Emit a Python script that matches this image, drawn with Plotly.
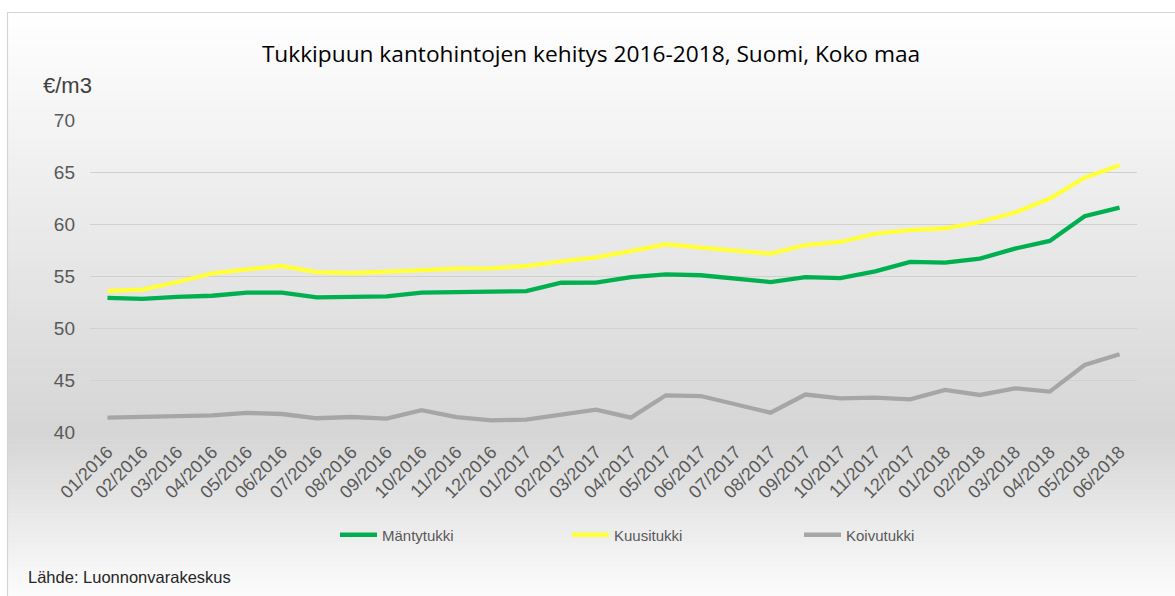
import plotly.graph_objects as go

months = ["01/2016", "02/2016", "03/2016", "04/2016", "05/2016", "06/2016",
          "07/2016", "08/2016", "09/2016", "10/2016", "11/2016", "12/2016",
          "01/2017", "02/2017", "03/2017", "04/2017", "05/2017", "06/2017",
          "07/2017", "08/2017", "09/2017", "10/2017", "11/2017", "12/2017",
          "01/2018", "02/2018", "03/2018", "04/2018", "05/2018", "06/2018"]

mantytukki = [52.9, 52.8, 53.0, 53.1, 53.4, 53.4, 52.95, 53.05, 53.05, 53.4, 53.45, 53.55,
              53.55, 54.35, 54.37, 54.9, 55.15, 55.07, 54.7, 54.42, 54.9, 54.8, 55.45, 56.35,
              56.28, 56.67, 57.63, 58.37, 60.75, 61.57]
kuusitukki = [53.56, 53.69, 54.42, 55.26, 55.64, 55.96, 55.38, 55.29, 55.42, 55.61, 55.71, 55.74,
              55.96, 56.41, 56.8, 57.4, 58.05, 57.73, 57.4, 57.15, 57.98, 58.27, 59.08, 59.42,
              59.59, 60.19, 61.1, 62.44, 64.46, 65.64]
koivutukki = [41.38, 41.44, 41.54, 41.6, 41.83, 41.73, 41.32, 41.44, 41.29, 42.09, 41.44, 41.12,
              41.19, 41.7, 42.15, 41.38, 43.53, 43.46, 42.66, 41.86, 43.6, 43.24, 43.3, 43.14,
              44.04, 43.56, 44.2, 43.88, 46.44, 47.47]

series_names = ["Mäntytukki", "Kuusitukki", "Koivutukki"]
series_colors = ["#00B050", "#FFFF3B", "#A6A6A6"]
y_ticks = [40, 45, 50, 55, 60, 65, 70]

W, H = 1175, 596
L, R, T, B = 90, 1137, 120, 432  # plot area in pixels


def px_x(x):
    return (x - L) / (R - L)


def px_y(y):
    return (B - y) / (B - T)


fig = go.Figure()
for name, vals, col in zip(series_names, [mantytukki, kuusitukki, koivutukki], series_colors):
    fig.add_trace(go.Scatter(x=months, y=vals, mode="lines", name=name,
                             line=dict(color=col, width=4.3)))

# vertical gradient background built from thin strips
shapes = []
top, bottom = 12, 596
n = 120


def shade(y):
    if y <= 435:
        t = (y - top) / (435 - top)
        return 255 - t * (255 - 213)
    t = (y - 435) / (bottom - 435)
    return 213 + t * (252 - 213)


for i in range(n):
    y0 = top + (bottom - top) * i / n
    y1 = top + (bottom - top) * (i + 1) / n
    c = int(round(shade((y0 + y1) / 2)))
    shapes.append(dict(type="rect", xref="paper", yref="paper", layer="below",
                       x0=px_x(7), x1=px_x(W), y0=px_y(y1 + 0.6), y1=px_y(y0),
                       fillcolor=f"rgb({c},{c},{c})", line=dict(width=0)))
shapes.append(dict(type="rect", xref="paper", yref="paper", layer="above",
                   x0=px_x(7.5), x1=px_x(W + 5), y0=px_y(H + 5), y1=px_y(12.5),
                   fillcolor="rgba(0,0,0,0)", line=dict(color="#d4d4d4", width=1.2)))

annotations = [
    dict(text="€/m3", xref="paper", yref="paper", x=px_x(41), y=px_y(86),
         xanchor="left", yanchor="middle", showarrow=False,
         font=dict(family="Liberation Sans, Arial, sans-serif", size=22, color="#404040")),
    dict(text="Lähde: Luonnonvarakeskus", xref="paper", yref="paper", x=px_x(26), y=px_y(577),
         xanchor="left", yanchor="middle", showarrow=False,
         font=dict(family="Liberation Sans, Arial, sans-serif", size=16.5, color="#262626")),
]

fig.update_layout(
    width=W, height=H,
    margin=dict(l=L, r=W - R, t=T, b=H - B, autoexpand=False),
    paper_bgcolor="white",
    plot_bgcolor="rgba(0,0,0,0)",
    title=dict(text="Tukkipuun kantohintojen kehitys 2016-2018, Suomi, Koko maa",
               x=591 / W, y=1 - 54 / H, xanchor="center", yanchor="middle",
               xref="container", yref="container",
               font=dict(family="Open Sans, Noto Sans, sans-serif", size=22.7, color="#000000")),
    xaxis=dict(type="category", tickangle=-45, showgrid=False, showline=False, ticks="",
               ticklabelstandoff=5,
               tickfont=dict(family="Liberation Sans, Arial, sans-serif", size=18, color="#595959"),
               range=[-0.5, len(months) - 0.5]),
    yaxis=dict(range=[40, 70], tickvals=y_ticks, showgrid=True, gridcolor="#d0d0d0", gridwidth=1,
               zeroline=False, showline=False, ticks="", ticklabelstandoff=14,
               tickfont=dict(family="Liberation Sans, Arial, sans-serif", size=19, color="#595959")),
    legend=dict(orientation="h", x=px_x(335), y=px_y(535), xanchor="left", yanchor="middle",
                entrywidth=180, entrywidthmode="pixels", itemwidth=37, bgcolor="rgba(0,0,0,0)",
                font=dict(family="Liberation Sans, Arial, sans-serif", size=15, color="#595959")),
    shapes=shapes,
    annotations=annotations,
    showlegend=True,
)

fig.write_html("out.html", config={"displayModeBar": False},
               post_script="document.body.style.margin='0';")
